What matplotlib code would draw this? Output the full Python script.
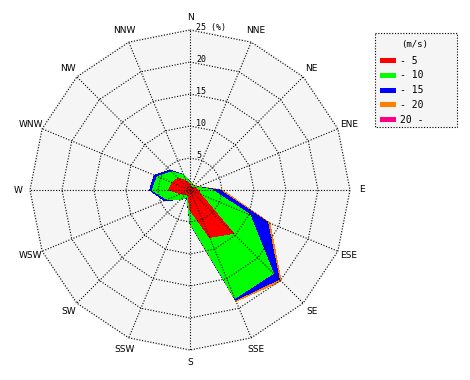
import matplotlib
matplotlib.use("Agg")
import matplotlib.pyplot as plt
import numpy as np

directions = ["N", "NNE", "NE", "ENE", "E", "ESE", "SE", "SSE",
              "S", "SSW", "SW", "WSW", "W", "WNW", "NW", "NNW"]
speed_labels = ["- 5", "- 10", "- 15", "- 20", "20 -"]
speed_colors = ["#ff0000", "#00ff00", "#0000ff", "#ff8000", "#ff0080"]
ring_values = [5, 10, 15, 20, 25]

# frequency (%) per speed class and direction
freq_0_5 = [0.8, 0.5, 0.5, 0.8, 1.2, 1.8, 9.6, 8.0, 3.1, 0.8, 1.0, 1.5, 3.3, 3.0, 2.6, 1.5]
freq_5_10 = [0.4, 0.3, 0.3, 0.4, 2.3, 8.3, 8.8, 10.3, 2.0, 0.4, 1.0, 2.4, 2.6, 2.5, 1.4, 1.0]
freq_10_15 = [0.1, 0.1, 0.1, 0.1, 1.1, 3.0, 1.3, 0.3, 0.1, 0.1, 0.1, 0.4, 0.4, 0.5, 0.4, 0.1]
freq_15_20 = [0.0, 0.1, 0.1, 0.1, 0.4, 0.4, 0.4, 0.2, 0.1, 0.0, 0.0, 0.0, 0.0, 0.0, 0.0, 0.0]
freq_20_up = [0.0] * 16

rmax = 25
scale = 6.4  # pixels per percent

fig = plt.figure(figsize=(4.7, 3.8), dpi=100)
ax = fig.add_axes([0, 0, 1, 1])
ax.set_xlim(-190 / scale, 280 / scale)
ax.set_ylim(-190 / scale, 190 / scale)
ax.set_aspect("equal")
ax.axis("off")

ang = np.deg2rad(np.arange(16) * 22.5)
ux, uy = np.sin(ang), np.cos(ang)

# background polygon
ax.fill(rmax * ux, rmax * uy, color="#f5f5f5", zorder=0, antialiased=False)

# stacked rose, outermost first
stack = np.cumsum([freq_0_5, freq_5_10, freq_10_15, freq_15_20, freq_20_up], axis=0)
for i in range(4, -1, -1):
    r = stack[i]
    ax.fill(r * ux, r * uy, color=speed_colors[i], lw=0, zorder=2, antialiased=False)

# grid
dot = (0, (1, 1.5))
for rv in ring_values:
    ax.plot(np.append(rv * ux, rv * ux[0]), np.append(rv * uy, rv * uy[0]),
            color="black", lw=0.8, ls=dot, zorder=3)
for x, y in zip(ux, uy):
    ax.plot([0, rmax * x], [0, rmax * y], color="black", lw=0.8, ls=dot, zorder=3)

for d, x, y in zip(directions, ux, uy):
    ax.text(26.9 * x, 26.9 * y, d, ha="center", va="center", fontsize=6.5,
            family="DejaVu Sans", zorder=4)

for rv in ring_values:
    lab = f"{rv} (%)" if rv == rmax else str(rv)
    ax.text(1.0, rv + 0.45, lab, ha="left", va="center", fontsize=6,
            family="DejaVu Sans Mono", zorder=4)

# legend box
lx0, ly0 = 375, 33
lx1, ly1 = 457, 127
def px(x, y):
    return (x - 190) / scale, (190 - y) / scale
bx = [px(lx0, ly0)[0], px(lx1, ly0)[0], px(lx1, ly1)[0], px(lx0, ly1)[0], px(lx0, ly0)[0]]
by = [px(lx0, ly0)[1], px(lx1, ly0)[1], px(lx1, ly1)[1], px(lx0, ly1)[1], px(lx0, ly0)[1]]
ax.fill(bx, by, color="#f5f5f5", zorder=1)
ax.plot(bx, by, color="black", lw=0.8, ls=dot, zorder=3)
tx, ty = px(415, 45)
ax.text(tx, ty, "(m/s)", ha="center", va="center", fontsize=6.5, family="DejaVu Sans Mono")
for k, (lab, c) in enumerate(zip(speed_labels, speed_colors)):
    yy = 60.5 + k * 14.8
    x0, y0 = px(380, yy + 2.5)
    x1, y1 = px(396, yy - 2.5)
    ax.fill([x0, x1, x1, x0], [y0, y0, y1, y1], color=c, lw=0, antialiased=False, zorder=2)
    lxx, lyy = px(400, yy)
    ax.text(lxx, lyy, lab, ha="left", va="center", fontsize=7, family="DejaVu Sans Mono")

fig.savefig("out.png", dpi=100)
